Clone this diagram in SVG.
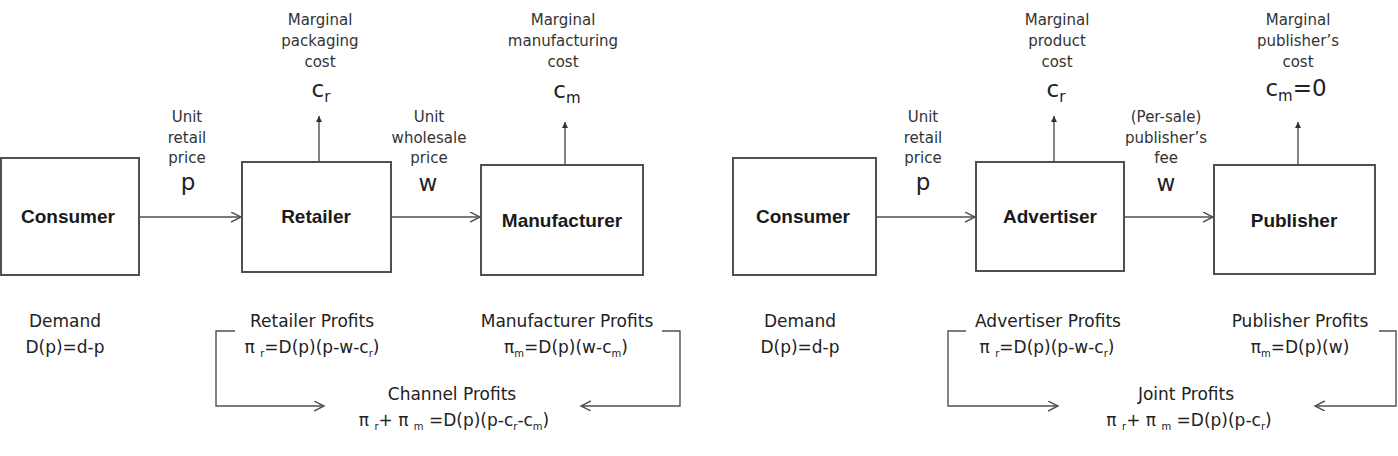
<svg xmlns="http://www.w3.org/2000/svg" width="1398" height="456" viewBox="0 0 1398 456">
<defs>
<style>
.box{fill:#fff;stroke:#505050;stroke-width:2}
.lbl{font-family:"Liberation Sans",Arial,sans-serif;font-weight:bold;font-size:19px;fill:#1a1a1a;text-anchor:middle}
.sm{font-family:"DejaVu Sans",Verdana,sans-serif;font-size:15px;fill:#333;text-anchor:middle}
.big{font-family:"DejaVu Sans",Verdana,sans-serif;font-size:23px;fill:#222;text-anchor:middle}
.txt{font-family:"DejaVu Sans",Verdana,sans-serif;font-size:17px;fill:#222;text-anchor:middle}
.con{fill:none;stroke:#505050;stroke-width:1.4}
</style>
<marker id="open" markerUnits="userSpaceOnUse" markerWidth="12" markerHeight="12" refX="10" refY="5" orient="auto">
<path d="M0,0 L10,5 L0,10" fill="none" stroke="#505050" stroke-width="1.4"/>
</marker>
<marker id="tri" markerUnits="userSpaceOnUse" markerWidth="8" markerHeight="8" refX="6" refY="3" orient="auto">
<path d="M0,0 L6,3 L0,6 Z" fill="#303030"/>
</marker>
</defs>
<rect width="1398" height="456" fill="#fff"/>

<g id="connectors">
<line class="con" x1="139" y1="217" x2="241" y2="217" marker-end="url(#open)"/>
<line class="con" x1="391" y1="217" x2="480" y2="217" marker-end="url(#open)"/>
<line class="con" x1="877" y1="217" x2="975" y2="217" marker-end="url(#open)"/>
<line class="con" x1="1124" y1="217" x2="1213" y2="217" marker-end="url(#open)"/>
<line class="con" x1="319" y1="161" x2="319" y2="116" marker-end="url(#tri)"/>
<line class="con" x1="565" y1="164" x2="565" y2="122" marker-end="url(#tri)"/>
<line class="con" x1="1054" y1="161" x2="1054" y2="116" marker-end="url(#tri)"/>
<line class="con" x1="1298" y1="164" x2="1298" y2="122" marker-end="url(#tri)"/>
<path class="con" d="M235,331 H216 V406 H324" marker-end="url(#open)"/>
<path class="con" d="M662,331 H680 V406 H581" marker-end="url(#open)"/>
<path class="con" d="M966,331 H948 V406 H1058" marker-end="url(#open)"/>
<path class="con" d="M1379,331 H1396 V406 H1315" marker-end="url(#open)"/>
</g>

<g id="consumer1">
<rect class="box" x="1" y="158" width="138" height="117"/>
<text class="lbl" x="68" y="223">Consumer</text>
</g>
<g id="retailer">
<rect class="box" x="242" y="162" width="149" height="110"/>
<text class="lbl" x="316" y="223">Retailer</text>
</g>
<g id="manufacturer">
<rect class="box" x="481" y="165" width="162" height="110"/>
<text class="lbl" x="562" y="227">Manufacturer</text>
</g>
<g id="consumer2">
<rect class="box" x="733" y="158" width="143" height="117"/>
<text class="lbl" x="803" y="223">Consumer</text>
</g>
<g id="advertiser">
<rect class="box" x="976" y="162" width="148" height="109"/>
<text class="lbl" x="1050" y="223">Advertiser</text>
</g>
<g id="publisher">
<rect class="box" x="1214" y="165" width="161" height="109"/>
<text class="lbl" x="1294" y="227">Publisher</text>
</g>

<g id="labels-left">
<text class="sm" x="320" y="25">Marginal</text>
<text class="sm" x="320" y="46">packaging</text>
<text class="sm" x="320" y="67">cost</text>
<text class="big" x="321" y="97">c<tspan font-size="15" dy="5">r</tspan></text>
<text class="sm" x="563" y="25">Marginal</text>
<text class="sm" x="563" y="46">manufacturing</text>
<text class="sm" x="563" y="67">cost</text>
<text class="big" x="567" y="98">c<tspan font-size="15" dy="5">m</tspan></text>
<text class="sm" x="187" y="122">Unit</text>
<text class="sm" x="187" y="143">retail</text>
<text class="sm" x="187" y="163">price</text>
<text class="big" x="188" y="190">p</text>
<text class="sm" x="429" y="122">Unit</text>
<text class="sm" x="429" y="143">wholesale</text>
<text class="sm" x="429" y="163">price</text>
<text class="big" x="428" y="191">w</text>
</g>

<g id="labels-right">
<text class="sm" x="1057" y="25">Marginal</text>
<text class="sm" x="1057" y="46">product</text>
<text class="sm" x="1057" y="67">cost</text>
<text class="big" x="1056" y="97">c<tspan font-size="15" dy="5">r</tspan></text>
<text class="sm" x="1298" y="25">Marginal</text>
<text class="sm" x="1298" y="46">publisher’s</text>
<text class="sm" x="1298" y="67">cost</text>
<text class="big" x="1296" y="96">c<tspan font-size="15" dy="5">m</tspan><tspan dy="-5">=0</tspan></text>
<text class="sm" x="923" y="122">Unit</text>
<text class="sm" x="923" y="143">retail</text>
<text class="sm" x="923" y="163">price</text>
<text class="big" x="923" y="190">p</text>
<text class="sm" x="1166" y="122">(Per-sale)</text>
<text class="sm" x="1166" y="143">publisher’s</text>
<text class="sm" x="1166" y="163">fee</text>
<text class="big" x="1166" y="191">w</text>
</g>

<g id="bottom-left">
<text class="txt" x="65" y="327">Demand</text>
<text class="txt" x="65" y="353">D(p)=d-p</text>
<text class="txt" x="312" y="327">Retailer Profits</text>
<text class="txt" x="312" y="353">π <tspan font-size="10" dy="4">r</tspan><tspan dy="-4">=D(p)(p-w-c</tspan><tspan font-size="10" dy="4">r</tspan><tspan dy="-4">)</tspan></text>
<text class="txt" x="567" y="327">Manufacturer Profits</text>
<text class="txt" x="566" y="353">π<tspan font-size="10" dy="4">m</tspan><tspan dy="-4">=D(p)(w-c</tspan><tspan font-size="10" dy="4">m</tspan><tspan dy="-4">)</tspan></text>
<text class="txt" x="452" y="400">Channel Profits</text>
<text class="txt" x="454" y="426">π <tspan font-size="10" dy="4">r</tspan><tspan dy="-4">+ π </tspan><tspan font-size="10" dy="4">m</tspan><tspan dy="-4"> =D(p)(p-c</tspan><tspan font-size="10" dy="4">r</tspan><tspan dy="-4">-c</tspan><tspan font-size="10" dy="4">m</tspan><tspan dy="-4">)</tspan></text>
</g>

<g id="bottom-right">
<text class="txt" x="800" y="327">Demand</text>
<text class="txt" x="800" y="353">D(p)=d-p</text>
<text class="txt" x="1048" y="327">Advertiser Profits</text>
<text class="txt" x="1047" y="353">π <tspan font-size="10" dy="4">r</tspan><tspan dy="-4">=D(p)(p-w-c</tspan><tspan font-size="10" dy="4">r</tspan><tspan dy="-4">)</tspan></text>
<text class="txt" x="1300" y="327">Publisher Profits</text>
<text class="txt" x="1300" y="353">π<tspan font-size="10" dy="4">m</tspan><tspan dy="-4">=D(p)(w)</tspan></text>
<text class="txt" x="1186" y="400">Joint Profits</text>
<text class="txt" x="1189" y="426">π <tspan font-size="10" dy="4">r</tspan><tspan dy="-4">+ π </tspan><tspan font-size="10" dy="4">m</tspan><tspan dy="-4"> =D(p)(p-c</tspan><tspan font-size="10" dy="4">r</tspan><tspan dy="-4">)</tspan></text>
</g>
</svg>
